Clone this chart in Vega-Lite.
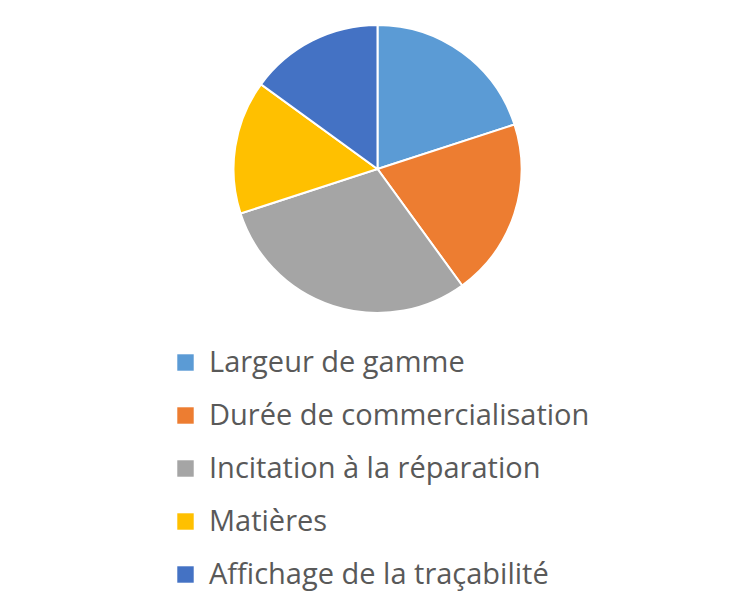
{
  "$schema": "https://vega.github.io/schema/vega-lite/v6.json",
  "width": 755,
  "height": 338,
  "autosize": {"type": "none"},
  "padding": {"top": 0, "left": 0, "right": 0, "bottom": 274},
  "background": "white",
  "config": {"view": {"stroke": null}},
  "data": {
    "values": [
      {"categorie": "Largeur de gamme", "part": 20, "ordre": 1},
      {"categorie": "Durée de commercialisation", "part": 20, "ordre": 2},
      {"categorie": "Incitation à la réparation", "part": 30, "ordre": 3},
      {"categorie": "Matières", "part": 15, "ordre": 4},
      {"categorie": "Affichage de la traçabilité", "part": 15, "ordre": 5}
    ]
  },
  "mark": {"type": "arc", "outerRadius": 144, "stroke": "white", "strokeWidth": 2},
  "encoding": {
    "theta": {"field": "part", "type": "quantitative", "stack": true},
    "order": {"field": "ordre", "type": "quantitative"},
    "color": {
      "field": "categorie",
      "type": "nominal",
      "sort": ["Largeur de gamme", "Durée de commercialisation", "Incitation à la réparation", "Matières", "Affichage de la traçabilité"],
      "scale": {
        "domain": ["Largeur de gamme", "Durée de commercialisation", "Incitation à la réparation", "Matières", "Affichage de la traçabilité"],
        "range": ["#5B9BD5", "#ED7D31", "#A5A5A5", "#FFC000", "#4472C4"]
      },
      "legend": {
        "title": null,
        "orient": "none",
        "legendX": 171,
        "legendY": 348,
        "symbolType": "square",
        "symbolSize": 270,
        "symbolStrokeWidth": 0,
        "labelFont": "Open Sans",
        "labelFontSize": 29,
        "labelColor": "#595959",
        "labelOffset": 9,
        "labelLimit": 600,
        "rowPadding": 23
      }
    }
  }
}
